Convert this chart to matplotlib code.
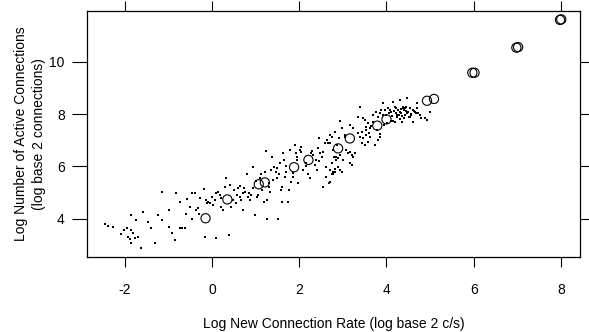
import matplotlib
matplotlib.use("Agg")
import matplotlib.pyplot as plt

plt.rcParams['font.family'] = ['Liberation Sans', 'DejaVu Sans']

# Small dots: (log2 new connection rate, log2 active connections)
dot_x = [
    -2.46, -2.39, -2.27, -2.02, -1.96, -1.85, -1.81, -1.93, -1.89, -1.77, -1.70, -1.85, -1.64,
    -1.85, -1.58, -1.47, -1.31, -1.24, -1.16, -1.14, -0.99, -0.93, -0.86, -0.82, -0.74, -0.73,
    -0.68, -0.63, -0.57, -0.51, -0.47, -0.45, -0.40, -0.36, -0.32, -0.28, -0.19, -0.17, -0.15,
    -0.11, -0.09, -0.05, 0.02, 0.06, 0.08, 0.10, 0.14, 0.18, 0.21, 0.24, 0.29, 0.33, 0.39, 0.41,
    0.44, 0.48, 0.50, 0.56, 0.60, 0.63, 0.65, 0.67, 0.70, 0.73, 0.75, 0.79, 0.83, 0.85, 0.88,
    0.90, 0.93, 0.94, 0.98, 1.02, 1.06, 1.09, 1.13, 1.15, 1.19, 1.21, 1.23, 1.25, 1.26, 1.31,
    1.32, 1.36, 1.38, 1.40, 1.41, 1.46, 1.49, 1.51, 1.54, 1.55, 1.59, 1.61, 1.63, 1.64, 1.67,
    1.70, 1.74, 1.77, 1.78, 1.82, 1.86, 1.90, 1.92, 1.95, 1.97, 2.01, 2.05, 2.09, 2.16, 2.20,
    2.24, 2.28, 2.32, 2.35, 2.38, 2.41, 2.43, 2.45, 2.47, 2.51, 2.55, 2.58, 2.61, 2.62, 2.64,
    2.66, 2.68, 2.70, 2.74, 2.78, 2.79, 2.81, 2.85, 2.87, 2.91,
    2.70, 2.74, 2.78, 2.81, 2.85, 2.89, 2.93, 3.00, 3.04, 3.08, 3.12, 3.16, 3.20, 3.23, 3.27,
    3.16, 3.20, 3.35, 3.39, 3.43, 3.46, 3.50, 3.54, 3.58, 3.62, 3.73, 3.81, 3.85, 2.70, 2.74,
    2.78, 2.81, 2.89, 2.93, 2.97, 2.70,
    2.93, 2.97, 3.04, 3.16, 3.23, 3.35, 3.39, 3.43, 3.46, 3.50, 3.53, 3.54, 3.58, 3.60, 3.62,
    3.69, 3.77, 3.81, 3.85, 3.88, 3.91, 3.92, 3.96, 4.00, 4.04, 4.08, 4.11, 4.15, 4.19, 4.21,
    4.23, 4.27, 4.29, 4.31, 4.32, 4.34, 4.37, 4.38, 4.40, 4.42, 4.44, 4.46, 4.47, 4.50, 4.52,
    4.53, 4.57, 4.61, 4.65, 4.69, 4.70, 4.73, 4.76, 4.80, 4.88, 4.92, 4.99,
    4.05, 4.12, 4.18, 4.25, 4.33, 4.41, 4.48, 4.56, 4.63, 4.10, 4.20, 4.30, 4.36, 4.45, 4.55,
    3.95, 4.02, 4.14, 4.24, 4.35, 4.43, 4.60, 4.67, 3.70, 3.78, 3.65, 3.86,
    1.95, 2.05, 2.15, 2.30, 2.45, 2.55, 1.50, 1.60, 1.70, 1.85, 1.00, 1.10, 1.30, 0.55, 0.70,
    -0.60, -0.30, 0.00, 0.20, -1.00, -1.40, -2.10, -1.75,
]
dot_y = [
    3.82, 3.73, 3.69, 3.57, 3.63, 3.57, 3.44, 3.29, 3.21, 3.25, 3.31, 3.08, 2.87,
    4.14, 4.27, 3.89, 3.08, 4.14, 3.95, 5.03, 4.33, 3.46, 3.18, 4.97, 4.65, 3.66,
    3.63, 3.63, 4.75, 4.46, 4.01, 4.97, 4.99, 4.33, 4.40, 4.78, 5.12, 3.31, 4.71,
    4.61, 4.65, 4.61, 4.52, 4.71, 3.25, 4.97, 5.03, 4.90, 4.46, 4.33, 5.22, 5.54, 3.38, 5.29,
    4.46, 4.71, 5.10, 4.90, 5.16, 5.25, 4.84, 4.71, 4.33, 5.16, 5.03, 5.73, 4.84, 4.97, 4.71,
    4.90, 5.99, 5.16, 4.14, 4.84, 4.90, 5.54, 5.73, 5.10, 4.65, 5.80, 6.59, 4.01, 4.71, 5.35,
    5.03, 5.86, 6.37, 5.48, 5.99, 5.80, 5.54, 4.01, 5.73, 6.12, 5.10, 4.65, 6.50, 6.24, 5.61,
    5.80, 4.65, 5.10, 6.63, 5.41, 5.61, 6.82, 6.50, 6.24, 5.35, 6.63, 6.56, 5.86, 6.12, 5.73,
    5.54, 6.50, 6.43, 6.05, 6.24, 5.86, 6.69, 7.07, 6.50, 6.37, 5.22, 6.88, 5.61, 5.99, 7.01,
    6.88, 5.35, 7.20, 6.12, 5.73, 6.37, 5.80, 6.24, 6.82, 7.07,
    6.88, 7.14, 6.63, 7.33, 6.37, 6.31, 6.43, 6.24, 7.20, 6.63, 6.50, 6.56, 6.43, 6.37, 6.50,
    6.12, 6.05, 7.26, 7.14, 6.88, 7.07, 6.82, 7.20, 6.94, 7.14, 6.82, 7.01, 7.14, 5.86, 5.73,
    5.80, 5.92, 5.99, 5.86, 5.80, 5.41,
    7.72, 7.46, 7.14, 7.58, 7.46, 7.90, 8.29, 7.33, 7.84, 7.78, 7.52, 7.39, 7.65, 7.27, 7.46,
    7.97, 8.09, 7.90, 8.03, 8.16, 8.41, 7.97, 8.16, 7.97, 8.22, 8.16, 8.09, 8.48, 8.29, 8.03,
    8.22, 8.16, 7.97, 8.54, 8.09, 8.03, 8.22, 8.29, 8.16, 7.97, 8.29, 8.61, 8.03, 8.09, 7.90,
    8.22, 7.97, 8.16, 8.09, 8.22, 8.41, 8.03, 7.97, 7.84, 7.84, 7.78, 8.09,
    8.05, 7.92, 8.12, 7.88, 8.20, 7.85, 8.05, 8.00, 8.12, 7.75, 7.70, 7.80, 7.92, 8.12, 7.90,
    7.60, 7.65, 7.75, 7.95, 7.70, 8.25, 7.70, 8.05, 7.70, 7.40, 7.55, 7.25,
    6.35, 6.75, 6.00, 6.60, 6.20, 6.55, 5.95, 5.20, 6.00, 5.75, 5.45, 5.55, 5.20, 4.60, 5.00,
    4.20, 4.20, 4.85, 4.80, 3.70, 3.65, 3.40, 3.95,
]

# Open circles
circ_x = [-0.15, 0.35, 1.07, 1.21, 1.88, 2.21, 2.89, 3.16, 3.79, 4.00, 4.93, 5.09,
          5.97, 6.02, 6.98, 7.02, 7.98, 8.01]
circ_y = [4.02, 4.74, 5.32, 5.39, 5.97, 6.25, 6.69, 7.07, 7.56, 7.80, 8.51, 8.58,
          9.58, 9.58, 10.54, 10.56, 11.60, 11.62]

x_ticks = [-2, 0, 2, 4, 6, 8]
y_ticks = [4, 6, 8, 10]

fig = plt.figure(figsize=(5.89, 3.32), dpi=100)
ax = fig.add_axes([87/589, 1 - 257/332, (580-87)/589, (257-11)/332])

ax.scatter(dot_x, dot_y, s=3.5, marker='s', c='black', linewidths=0)
ax.scatter(circ_x, circ_y, s=44, facecolors='none', edgecolors='black', linewidths=0.8)

ax.set_xlim(-2.87, 8.44)
ax.set_ylim(2.54, 11.94)
ax.set_xticks(x_ticks)
ax.set_yticks(y_ticks)
ax.set_xticklabels([str(v) for v in x_ticks])
ax.set_yticklabels([str(v) for v in y_ticks])
ax.tick_params(axis='x', direction='out', length=7, width=0.8, labelsize=10,
               top=True, pad=12)
ax.tick_params(axis='y', direction='out', length=11, width=0.8, labelsize=10,
               right=True, pad=5)
for sp in ax.spines.values():
    sp.set_linewidth(0.9)

ax.set_xlabel('Log New Connection Rate (log base 2 c/s)', fontsize=10, labelpad=14)
fig.text(30/589, 1 - 134/332, 'Log Number of Active Connections\n(log base 2 connections)',
         rotation=90, ha='center', va='center', fontsize=10, linespacing=1.4)

fig.savefig('out.png', dpi=100)
